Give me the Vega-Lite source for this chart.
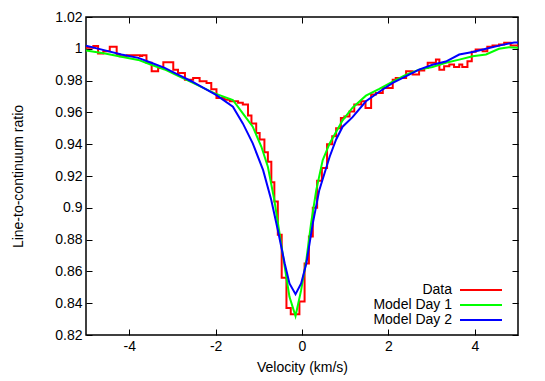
{
  "$schema": "https://vega.github.io/schema/vega-lite/v6.json",
  "width": 432,
  "height": 318,
  "autosize": {"type": "none"},
  "padding": {"left": 86, "top": 17, "right": 27, "bottom": 46},
  "config": {
    "font": "Liberation Sans",
    "view": {"stroke": "#000", "strokeWidth": 1.5},
    "axis": {
      "grid": false,
      "domain": false,
      "tickSize": -6,
      "tickColor": "#000",
      "tickWidth": 1,
      "labelFontSize": 14,
      "labelColor": "#000",
      "titleFontSize": 14,
      "titleFontWeight": "normal",
      "titleColor": "#000"
    }
  },
  "data": {
    "values": [
      {"s": "Data", "v": -5.0, "r": 1.0006},
      {"s": "Data", "v": -4.83, "r": 1.0017},
      {"s": "Data", "v": -4.72, "r": 0.997},
      {"s": "Data", "v": -4.6, "r": 0.9985},
      {"s": "Data", "v": -4.45, "r": 1.0013},
      {"s": "Data", "v": -4.29, "r": 0.9964},
      {"s": "Data", "v": -4.22, "r": 0.9953},
      {"s": "Data", "v": -4.06, "r": 0.996},
      {"s": "Data", "v": -3.75, "r": 0.9955},
      {"s": "Data", "v": -3.7, "r": 0.996},
      {"s": "Data", "v": -3.6, "r": 0.9912},
      {"s": "Data", "v": -3.48, "r": 0.9859},
      {"s": "Data", "v": -3.33, "r": 0.988},
      {"s": "Data", "v": -3.21, "r": 0.9915},
      {"s": "Data", "v": -2.98, "r": 0.9869},
      {"s": "Data", "v": -2.87, "r": 0.9848},
      {"s": "Data", "v": -2.71, "r": 0.9806},
      {"s": "Data", "v": -2.52, "r": 0.9817},
      {"s": "Data", "v": -2.37, "r": 0.9796},
      {"s": "Data", "v": -2.21, "r": 0.9785},
      {"s": "Data", "v": -2.1, "r": 0.9745},
      {"s": "Data", "v": -1.98, "r": 0.969},
      {"s": "Data", "v": -1.79, "r": 0.968},
      {"s": "Data", "v": -1.67, "r": 0.967},
      {"s": "Data", "v": -1.48, "r": 0.966},
      {"s": "Data", "v": -1.37, "r": 0.965},
      {"s": "Data", "v": -1.25, "r": 0.958},
      {"s": "Data", "v": -1.17, "r": 0.953},
      {"s": "Data", "v": -1.06, "r": 0.947},
      {"s": "Data", "v": -0.98, "r": 0.943},
      {"s": "Data", "v": -0.87, "r": 0.935},
      {"s": "Data", "v": -0.79, "r": 0.929},
      {"s": "Data", "v": -0.71, "r": 0.916},
      {"s": "Data", "v": -0.64, "r": 0.904},
      {"s": "Data", "v": -0.56, "r": 0.883},
      {"s": "Data", "v": -0.47, "r": 0.856},
      {"s": "Data", "v": -0.36, "r": 0.837},
      {"s": "Data", "v": -0.26, "r": 0.833},
      {"s": "Data", "v": -0.06, "r": 0.841},
      {"s": "Data", "v": 0.06, "r": 0.865},
      {"s": "Data", "v": 0.16, "r": 0.882},
      {"s": "Data", "v": 0.25, "r": 0.9},
      {"s": "Data", "v": 0.35, "r": 0.917},
      {"s": "Data", "v": 0.46, "r": 0.925},
      {"s": "Data", "v": 0.58, "r": 0.94},
      {"s": "Data", "v": 0.7, "r": 0.945},
      {"s": "Data", "v": 0.79, "r": 0.95},
      {"s": "Data", "v": 0.9, "r": 0.9565},
      {"s": "Data", "v": 0.98, "r": 0.9575},
      {"s": "Data", "v": 1.1, "r": 0.9606},
      {"s": "Data", "v": 1.21, "r": 0.9649},
      {"s": "Data", "v": 1.37, "r": 0.967},
      {"s": "Data", "v": 1.47, "r": 0.9628},
      {"s": "Data", "v": 1.6, "r": 0.9712},
      {"s": "Data", "v": 1.71, "r": 0.9722},
      {"s": "Data", "v": 1.87, "r": 0.9754},
      {"s": "Data", "v": 2.1, "r": 0.9806},
      {"s": "Data", "v": 2.17, "r": 0.9817},
      {"s": "Data", "v": 2.41, "r": 0.9859},
      {"s": "Data", "v": 2.56, "r": 0.9838},
      {"s": "Data", "v": 2.71, "r": 0.9863},
      {"s": "Data", "v": 2.83, "r": 0.988},
      {"s": "Data", "v": 2.91, "r": 0.9912},
      {"s": "Data", "v": 3.1, "r": 0.9932},
      {"s": "Data", "v": 3.18, "r": 0.9869},
      {"s": "Data", "v": 3.29, "r": 0.989},
      {"s": "Data", "v": 3.41, "r": 0.9901},
      {"s": "Data", "v": 3.52, "r": 0.9886},
      {"s": "Data", "v": 3.64, "r": 0.9901},
      {"s": "Data", "v": 3.71, "r": 0.9886},
      {"s": "Data", "v": 3.83, "r": 0.9922},
      {"s": "Data", "v": 3.93, "r": 0.9981},
      {"s": "Data", "v": 4.02, "r": 0.9996},
      {"s": "Data", "v": 4.18, "r": 0.9985},
      {"s": "Data", "v": 4.29, "r": 1.0013},
      {"s": "Data", "v": 4.41, "r": 1.002},
      {"s": "Data", "v": 4.56, "r": 1.0027},
      {"s": "Data", "v": 4.68, "r": 1.0038},
      {"s": "Data", "v": 4.83, "r": 1.002},
      {"s": "Data", "v": 5.0, "r": 1.002},

      {"s": "Model Day 1", "v": -5.0, "r": 0.999},
      {"s": "Model Day 1", "v": -4.56, "r": 0.997},
      {"s": "Model Day 1", "v": -4.18, "r": 0.995},
      {"s": "Model Day 1", "v": -3.79, "r": 0.993},
      {"s": "Model Day 1", "v": -3.49, "r": 0.99},
      {"s": "Model Day 1", "v": -3.18, "r": 0.987},
      {"s": "Model Day 1", "v": -2.87, "r": 0.983},
      {"s": "Model Day 1", "v": -2.56, "r": 0.979},
      {"s": "Model Day 1", "v": -2.25, "r": 0.975},
      {"s": "Model Day 1", "v": -2.02, "r": 0.972},
      {"s": "Model Day 1", "v": -1.6, "r": 0.9678},
      {"s": "Model Day 1", "v": -1.37, "r": 0.9594},
      {"s": "Model Day 1", "v": -1.14, "r": 0.951},
      {"s": "Model Day 1", "v": -0.94, "r": 0.9384},
      {"s": "Model Day 1", "v": -0.79, "r": 0.9258},
      {"s": "Model Day 1", "v": -0.64, "r": 0.9048},
      {"s": "Model Day 1", "v": -0.52, "r": 0.8839},
      {"s": "Model Day 1", "v": -0.4, "r": 0.8629},
      {"s": "Model Day 1", "v": -0.29, "r": 0.844},
      {"s": "Model Day 1", "v": -0.15, "r": 0.8319},
      {"s": "Model Day 1", "v": -0.02, "r": 0.8482},
      {"s": "Model Day 1", "v": 0.1, "r": 0.8671},
      {"s": "Model Day 1", "v": 0.21, "r": 0.8902},
      {"s": "Model Day 1", "v": 0.33, "r": 0.9111},
      {"s": "Model Day 1", "v": 0.48, "r": 0.93},
      {"s": "Model Day 1", "v": 0.64, "r": 0.9405},
      {"s": "Model Day 1", "v": 0.94, "r": 0.955},
      {"s": "Model Day 1", "v": 1.17, "r": 0.963},
      {"s": "Model Day 1", "v": 1.48, "r": 0.9705},
      {"s": "Model Day 1", "v": 1.79, "r": 0.9748},
      {"s": "Model Day 1", "v": 2.1, "r": 0.9794},
      {"s": "Model Day 1", "v": 2.4, "r": 0.9836},
      {"s": "Model Day 1", "v": 2.71, "r": 0.9869},
      {"s": "Model Day 1", "v": 3.02, "r": 0.9886},
      {"s": "Model Day 1", "v": 3.33, "r": 0.9912},
      {"s": "Model Day 1", "v": 3.64, "r": 0.9932},
      {"s": "Model Day 1", "v": 3.95, "r": 0.9953},
      {"s": "Model Day 1", "v": 4.26, "r": 0.9964},
      {"s": "Model Day 1", "v": 4.56, "r": 1.0},
      {"s": "Model Day 1", "v": 4.79, "r": 1.001},
      {"s": "Model Day 1", "v": 5.0, "r": 1.0006},

      {"s": "Model Day 2", "v": -5.0, "r": 1.002},
      {"s": "Model Day 2", "v": -4.56, "r": 0.999},
      {"s": "Model Day 2", "v": -4.18, "r": 0.9964},
      {"s": "Model Day 2", "v": -3.79, "r": 0.9943},
      {"s": "Model Day 2", "v": -3.49, "r": 0.9912},
      {"s": "Model Day 2", "v": -3.18, "r": 0.988},
      {"s": "Model Day 2", "v": -2.87, "r": 0.9838},
      {"s": "Model Day 2", "v": -2.56, "r": 0.9796},
      {"s": "Model Day 2", "v": -2.25, "r": 0.975},
      {"s": "Model Day 2", "v": -1.98, "r": 0.9709},
      {"s": "Model Day 2", "v": -1.6, "r": 0.9636},
      {"s": "Model Day 2", "v": -1.37, "r": 0.9531},
      {"s": "Model Day 2", "v": -1.14, "r": 0.9405},
      {"s": "Model Day 2", "v": -0.9, "r": 0.9237},
      {"s": "Model Day 2", "v": -0.71, "r": 0.9048},
      {"s": "Model Day 2", "v": -0.56, "r": 0.886},
      {"s": "Model Day 2", "v": -0.4, "r": 0.865},
      {"s": "Model Day 2", "v": -0.29, "r": 0.8524},
      {"s": "Model Day 2", "v": -0.15, "r": 0.8457},
      {"s": "Model Day 2", "v": -0.02, "r": 0.8524},
      {"s": "Model Day 2", "v": 0.1, "r": 0.865},
      {"s": "Model Day 2", "v": 0.25, "r": 0.8902},
      {"s": "Model Day 2", "v": 0.4, "r": 0.9111},
      {"s": "Model Day 2", "v": 0.64, "r": 0.9321},
      {"s": "Model Day 2", "v": 0.79, "r": 0.943},
      {"s": "Model Day 2", "v": 0.94, "r": 0.951},
      {"s": "Model Day 2", "v": 1.17, "r": 0.957},
      {"s": "Model Day 2", "v": 1.48, "r": 0.967},
      {"s": "Model Day 2", "v": 1.79, "r": 0.973},
      {"s": "Model Day 2", "v": 2.1, "r": 0.9785},
      {"s": "Model Day 2", "v": 2.4, "r": 0.9827},
      {"s": "Model Day 2", "v": 2.71, "r": 0.9869},
      {"s": "Model Day 2", "v": 3.02, "r": 0.99},
      {"s": "Model Day 2", "v": 3.33, "r": 0.992},
      {"s": "Model Day 2", "v": 3.64, "r": 0.9964},
      {"s": "Model Day 2", "v": 3.95, "r": 0.998},
      {"s": "Model Day 2", "v": 4.26, "r": 1.0},
      {"s": "Model Day 2", "v": 4.56, "r": 1.002},
      {"s": "Model Day 2", "v": 4.91, "r": 1.004},
      {"s": "Model Day 2", "v": 5.0, "r": 1.004}
    ]
  },
  "layer": [
    {
      "transform": [{"filter": "datum.s === 'Data'"}],
      "mark": {"type": "line", "interpolate": "step-after", "strokeWidth": 2, "clip": true},
      "encoding": {
        "x": {
          "field": "v", "type": "quantitative",
          "scale": {"domain": [-5, 5], "nice": false, "zero": false},
          "axis": {"orient": "bottom", "title": "Velocity (km/s)", "values": [-4, -2, 0, 2, 4], "labelExpr": "replace(datum.label, '\u2212', '-')", "labelPadding": 10, "titlePadding": 7}
        },
        "y": {
          "field": "r", "type": "quantitative",
          "scale": {"domain": [0.82, 1.02], "nice": false, "zero": false},
          "axis": {"orient": "left", "title": "Line-to-continuum ratio", "values": [0.82, 0.84, 0.86, 0.88, 0.9, 0.92, 0.94, 0.96, 0.98, 1, 1.02], "labelExpr": "format(datum.value, '.2~f')", "labelPadding": 10, "titlePadding": 29}
        },
        "color": {
          "field": "s", "type": "nominal",
          "scale": {"domain": ["Data", "Model Day 1", "Model Day 2"], "range": ["#ff0000", "#00ff00", "#0000ff"]},
          "legend": {
            "title": null, "orient": "none", "legendX": 388, "legendY": 266,
            "symbolType": "M-4.2,0H4.2", "symbolSize": 100, "symbolStrokeWidth": 2,
            "labelAlign": "right", "labelOffset": -36, "labelFontSize": 14, "labelColor": "#000",
            "rowPadding": 1, "padding": 0
          }
        }
      }
    },
    {
      "transform": [{"filter": "datum.s !== 'Data'"}],
      "mark": {"type": "line", "strokeWidth": 2, "clip": true},
      "encoding": {
        "x": {
          "field": "v", "type": "quantitative",
          "scale": {"domain": [-5, 5], "nice": false, "zero": false},
          "axis": {"orient": "top", "title": null, "labels": false, "values": [-4, -2, 0, 2, 4]}
        },
        "y": {
          "field": "r", "type": "quantitative",
          "scale": {"domain": [0.82, 1.02], "nice": false, "zero": false},
          "axis": {"orient": "right", "title": null, "labels": false, "values": [0.82, 0.84, 0.86, 0.88, 0.9, 0.92, 0.94, 0.96, 0.98, 1, 1.02]}
        },
        "color": {"field": "s", "type": "nominal"}
      }
    }
  ]
}
